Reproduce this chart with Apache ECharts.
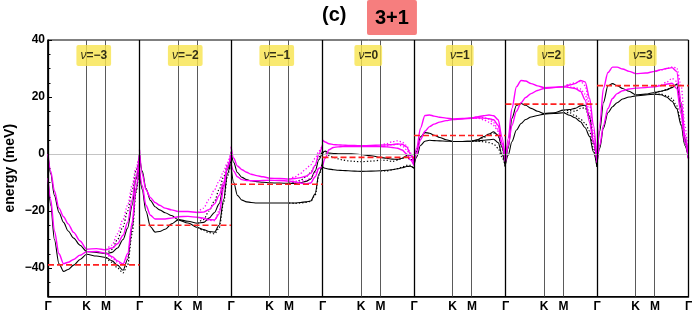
<!DOCTYPE html>
<html><head><meta charset="utf-8">
<script src="https://cdn.jsdelivr.net/npm/echarts@6/dist/echarts.min.js"></script>
<style>html,body{margin:0;padding:0;background:#fff}#c{width:692px;height:315px}</style>
</head><body><div id="c"></div>
<script>
// ---- k-path sample positions (fraction of one Γ-K-M-Γ panel) ----
const kPath = [0, 0.03, 0.07, 0.12, 0.17, 0.22, 0.28, 0.35, 0.4226, 0.53, 0.634, 0.7, 0.76, 0.82, 0.87, 0.92, 0.96, 1];
const pathTickPos = [0, 0.4226, 0.634];
const pathTickNames = ['Γ', 'K', 'M'];
const nuLabels = ['−3', '−2', '−1', '0', '1', '2', '3'];
const fermi = [-38.9, -25, -10.6, -1.2, 6.5, 17.5, 24];
const yTicks = [-40, -20, 0, 20, 40];

// ---- bands, one list per panel (ν = -3 ... 3), values along kPath ----
const magentaUpper = [
  [0, -6, -13, -19, -22, -24.5, -27.5, -30.5, -33.4, -33.2, -33.6, -33, -31.5, -28.5, -24, -16, -8, 0],
  [1.5, -7, -12.5, -15.3, -17, -18, -19, -19.6, -20.2, -20.2, -20.5, -20.4, -19.5, -17.5, -14.5, -10, -5, 0.5],
  [2.6, -1.5, -4.2, -5.5, -6.4, -7.1, -7.6, -8.0, -8.5, -8.6, -8.8, -8.6, -8.3, -7.8, -6.8, -4, 0, 3.2],
  [4.9, 4.2, 3.6, 3.3, 3.2, 3.1, 3.0, 3.0, 2.9, 3.0, 3.1, 3.2, 3.3, 3.5, 3.4, 2.5, 0, -3],
  [-2, 2, 9, 13.5, 13.7, 13.3, 12.9, 12.6, 12.3, 12.5, 12.7, 13.1, 13.4, 13.7, 13.4, 12, 6, -2.7],
  [-2.7, 5.5, 16, 23.6, 25.8, 25.6, 24.7, 23.9, 23.3, 23.4, 23.6, 24.2, 24.7, 25.8, 25.3, 19.5, 10.2, -2.7],
  [-3, 10, 23, 28.6, 30.5, 30.5, 29.8, 29, 28.2, 28.4, 29, 29.6, 30, 30.3, 29, 18, 6, -1.5]
];
const magentaLower = [
  [-8.5, -16, -27, -35, -38.5, -38, -37, -35.5, -34.3, -34.2, -34.8, -36, -37.5, -38.6, -35, -24, -12, -2],
  [-5.5, -11, -18, -21.5, -22.8, -22.8, -22.8, -22.5, -22.0, -21.9, -22.2, -22.5, -23, -23.1, -21, -12, -4.5, -1],
  [-3.3, -6, -8, -9, -9.3, -9.4, -9.4, -9.3, -9.2, -9.3, -9.5, -9.8, -10.2, -10.5, -10.2, -8, -5, -4.4],
  [-4.4, -1.5, 1.5, 2.3, 2.5, 2.6, 2.6, 2.6, 2.6, 2.6, 2.6, 2.5, 2.3, 2.0, 1.4, 0, -2, -4],
  [-3, 0, 5, 8, 9.6, 10.5, 11.2, 11.7, 12.1, 12.3, 12.5, 12.7, 12.6, 12.4, 12, 10, 4, -2.7],
  [-2.7, 3, 10, 15, 18, 19.8, 21.2, 22.3, 23, 23.3, 23.6, 23.3, 23, 22, 19, 11, 4, -2.7],
  [-3, 3, 10, 16, 19.5, 21.2, 22.2, 22.8, 23.1, 23.3, 23.6, 24, 24.5, 24.8, 23, 14, 4, -1.5]
];
const blackUpper = [
  [-0.5, -7, -14.5, -20.5, -24, -27, -29.5, -32, -34.2, -34.5, -35, -34.5, -33, -30, -26, -18, -9, -0.5],
  [0, -6, -12, -16.3, -18.5, -19.6, -20.6, -21.6, -23.0, -23.6, -24.3, -24, -22.5, -20.5, -17.5, -11, -5.5, -0.5],
  [0.8, -3, -6.5, -8.2, -9, -9.4, -9.7, -9.9, -10.1, -10.2, -10.3, -10.3, -10, -9.6, -8.8, -6, -2, 1],
  [0.5, 1.0, 0.3, 0.2, 0.1, 0.1, 0.1, 0, -0.2, -0.6, -1.2, -1.5, -1.8, -1.9, -1.5, -0.5, -0.3, -2],
  [-3, 1, 6, 7.5, 7.3, 6.6, 5.8, 5.0, 4.4, 4.4, 4.5, 5.1, 6.1, 7, 7.8, 6.5, 2.6, -4.5],
  [-3.5, 2, 12.5, 17.1, 17.7, 17.1, 16, 15, 14.2, 14.5, 15.4, 15.6, 16, 16.9, 17.1, 13.1, 4.3, -3.5],
  [-3.5, 8, 18, 24, 24.7, 24, 23, 22, 20.8, 21, 21.6, 22, 22.5, 23.3, 24.5, 16, 5, -1.5]
];
const blackLower = [
  [-9, -18, -30, -38.5, -41.2, -40.5, -39, -37, -35.2, -35.8, -36.3, -37.5, -39, -40.8, -37, -26, -13, -3],
  [-6.6, -12.5, -20, -25.5, -27.4, -27.2, -26.4, -24.5, -23.1, -24.2, -25.8, -26.5, -27.2, -27.4, -25, -16, -7, -2],
  [-4.4, -10, -14.5, -16.2, -16.8, -17, -17.2, -17.2, -17.2, -17.2, -17.2, -17.2, -17, -16.8, -16.5, -14, -7, -3],
  [-4.4, -5, -5.3, -5.5, -5.7, -5.8, -5.9, -6.0, -6.1, -6.0, -5.9, -5.7, -5.5, -5.2, -4.8, -4.4, -4.3, -5],
  [-4, -1, 3, 4.5, 4.8, 4.7, 4.6, 4.5, 4.4, 4.4, 4.5, 4.6, 4.8, 5.0, 5.2, 4, 0, -4.5],
  [-3.5, -0.4, 4.3, 8.4, 10.7, 12.1, 13, 13.5, 14, 14.2, 14.5, 13.6, 12.7, 11.3, 9.2, 6.1, 0.8, -4.5],
  [-3.5, 2, 9, 14.5, 16.6, 18, 19.3, 20, 20.4, 20.7, 21, 20.8, 20, 18.5, 16, 10, 3, -1.5]
];
// dotted partners: values over the last points of kPath (from M to Γ), or the whole path
const magentaUpperDot = [
  [-33.6, -32, -28, -23, -18, -11, -5, 0],
  [-20.5, -19, -16, -12.5, -9.5, -6, -3, 0.5],
  [-8.8, -8, -6.8, -5.2, -3.8, -1.5, 1, 3.2],
  [3.1, 3.6, 4.3, 4.6, 4.2, 3.0, 0.5, -3],
  [12.7, 13, 12.8, 12.2, 11, 8.5, 4, -2.7],
  [23.6, 24.5, 25, 25.5, 24, 17.1, 7.8, -2.7],
  [29, 29.5, 30, 30.5, 30.3, 24, 10, -1.5]
];
const magentaLowerDot = [
  [-34.8, -36.5, -38, -38.8, -36, -25, -13, -2],
  [-22.2, -22.8, -23.3, -23.4, -20, -11, -4, -1],
  [-9.5, -9.5, -9.5, -9.3, -8.5, -6.5, -5, -4.4],
  [2.6, 2.8, 3.2, 3.4, 2.8, 1.5, -1, -4],
  [12.5, 12.5, 12, 11.2, 10, 8, 3, -2.7],
  [23.6, 23.5, 23.3, 22.8, 21, 14, 6, -2.7],
  [23.6, 24.3, 25.2, 26.5, 25.5, 18, 7, -1.5]
];
const blackUpperDot = [
  [-35, -33.5, -30, -25.5, -20, -13, -6, -0.5],
  [-24.3, -23, -20, -16.5, -12.5, -8, -4, -0.5],
  [-10.3, -10, -9.2, -8, -6.5, -4, -1, 1],
  [0.5, 0.5, -0.5, -1.2, -1.7, -2.1, -2.4, -2.6, -2.7, -2.5, -2.2, -2.2, -2.6, -2.2, -1.5, -1, -2, -2],
  [4.5, 4.8, 5.8, 6.8, 7.3, 6.5, 2, -4.5],
  [15.4, 15.2, 15, 16, 16.2, 12.5, 4, -3.5],
  [21.6, 22, 22.6, 23.5, 24.5, 18, 6, -1.5]
];
const blackLowerDot = [
  [-36.3, -38, -40, -41.7, -39, -28, -14, -3],
  [-25.8, -26.8, -27.6, -28, -26, -17, -8, -2],
  [-17.2, -17.3, -17.2, -17, -16.6, -14.5, -7.5, -3],
  [-5.9, -5.9, -5.6, -5.1, -4.6, -4.0, -4, -5],
  [4.5, 4.5, 4.3, 4.0, 3.5, 2, -1, -4.5],
  [14.5, 14.5, 13.5, 12.2, 10.8, 8, 2, -4.5],
  [21, 21, 20.5, 19.5, 17, 11, 4, -1.5]
];

// ---- build ----
const FONT = "'Liberation Sans', Arial, sans-serif";
const nPanels = nuLabels.length;

function bandData(rows) {
  const data = [];
  rows.forEach((vals, p) => {
    const start = kPath.length - vals.length;
    vals.forEach((v, i) => data.push([p + kPath[start + i], v]));
    data.push([p + 1, '-']);
  });
  return data;
}
function bandSeries(rows, color, width, type, z) {
  return {
    type: 'line', data: bandData(rows), symbol: 'none', showSymbol: false,
    smooth: 0.3, smoothMonotone: 'x', connectNulls: false, silent: true,
    lineStyle: { color, width, type }, z, animation: false
  };
}

const xTicks = [];
for (let p = 0; p < nPanels; p++) pathTickPos.forEach(t => xTicks.push(p + t));
xTicks.push(nPanels);
function xName(v) {
  let f = v - Math.floor(v + 1e-6);
  if (f < 0) f = 0;
  let best = 0, bd = 9;
  pathTickPos.forEach((t, i) => { const d = Math.abs(f - t); if (d < bd) { bd = d; best = i; } });
  return pathTickNames[best];
}

const vLines = [{ yAxis: 0, lineStyle: { color: '#c4c4c4', width: 1, type: 'solid' } }];
for (let p = 0; p < nPanels; p++) {
  vLines.push({ xAxis: p + pathTickPos[1], lineStyle: { color: '#5a5a5a', width: 1, type: 'solid' } });
  vLines.push({ xAxis: p + pathTickPos[2], lineStyle: { color: '#5a5a5a', width: 1, type: 'solid' } });
}
for (let p = 0; p <= nPanels; p++) vLines.push({ xAxis: p, lineStyle: { color: '#000', width: 1.3, type: 'solid' } });

const fermiData = [];
fermi.forEach((e, p) => { fermiData.push([p, e], [p + 1, e], [p + 1, '-']); });

const nuLabelY = 34.6;
const series = [
  { type: 'line', data: [[0, 0]], symbol: 'none', lineStyle: { opacity: 0 }, silent: true, z: 1,
    markLine: { silent: true, symbol: ['none', 'none'], label: { show: false }, animation: false, data: vLines } },
  bandSeries(blackUpper, '#000', 1.1, 'solid', 3),
  bandSeries(blackLower, '#000', 1.1, 'solid', 3),
  bandSeries(blackUpperDot, '#000', 1.2, [1.3, 2], 3),
  bandSeries(blackLowerDot, '#000', 1.2, [1.3, 2], 3),
  bandSeries(magentaUpper, '#ff00ff', 1.4, 'solid', 4),
  bandSeries(magentaLower, '#ff00ff', 1.4, 'solid', 4),
  bandSeries(magentaUpperDot, '#ff00ff', 1.3, [1.3, 2], 4),
  bandSeries(magentaLowerDot, '#ff00ff', 1.3, [1.3, 2], 4),
  { type: 'line', data: fermiData, symbol: 'none', connectNulls: false, silent: true, z: 5, animation: false,
    lineStyle: { color: '#ff2020', width: 1.6, type: [6, 3] } },
  { type: 'scatter', data: nuLabels.map((t, p) => [p + 0.5, nuLabelY]), symbolSize: 0,
    itemStyle: { color: 'transparent' }, z: 6, silent: true, animation: false,
    label: { show: true, position: 'inside', formatter: (q) => '{i|ν}{n|=' + nuLabels[q.dataIndex] + '}',
      backgroundColor: '#f8e44c', padding: [5, 4, 4, 4], borderRadius: 2,
      rich: { i: { fontStyle: 'italic', fontSize: 12, fontFamily: FONT, color: '#000' },
              n: { fontWeight: 'bold', fontSize: 12, fontFamily: FONT, color: '#000' } } } }
];

const chart = echarts.init(document.getElementById('c'), null, { renderer: 'canvas' });
chart.setOption({
  animation: false,
  backgroundColor: '#fff',
  title: [
    { text: '(c)', left: 322, top: 5, padding: 0, textStyle: { fontSize: 20, fontWeight: 'bold', color: '#000', fontFamily: FONT } },
    { text: '3+1', left: 367, top: 0, padding: [8, 8, 7, 8], backgroundColor: '#f67e7e', borderRadius: 2,
      textStyle: { fontSize: 20, fontWeight: 'bold', color: '#000', fontFamily: FONT } }
  ],
  grid: { left: 48, right: 3.5, top: 40, bottom: 18.5, show: true, borderColor: '#000', borderWidth: 1,
    containLabel: false, outerBoundsMode: 'none' },
  xAxis: {
    type: 'value', min: 0, max: nPanels,
    axisLine: { show: true, onZero: false, lineStyle: { color: '#000', width: 1.5 } },
    axisTick: { show: false }, splitLine: { show: false },
    axisLabel: { customValues: xTicks, formatter: xName, fontWeight: 'bold', fontSize: 12, color: '#000', fontFamily: FONT, margin: 4 }
  },
  yAxis: [
    { type: 'value', min: -50, max: 40, position: 'left',
      name: 'energy (meV)', nameLocation: 'middle', nameGap: 31, nameRotate: 90, nameMoveOverlap: false,
      nameTextStyle: { fontSize: 14, fontWeight: 'bold', color: '#000', fontFamily: FONT },
      axisLine: { show: true, onZero: false, lineStyle: { color: '#000', width: 1.5 } },
      axisTick: { show: true, inside: true, length: 4, customValues: yTicks, lineStyle: { color: '#000', width: 1 } },
      axisLabel: { customValues: yTicks, formatter: v => (v < 0 ? '−' + (-v) : '' + v), fontWeight: 'bold', fontSize: 12, color: '#000', fontFamily: FONT, margin: 3 },
      splitLine: { show: false } },
    { type: 'value', min: -50, max: 40, interval: 5, position: 'left',
      axisLine: { show: false, onZero: false }, axisLabel: { show: false }, splitLine: { show: false },
      axisTick: { show: true, inside: true, length: 2.5, lineStyle: { color: '#000', width: 1 } } }
  ],
  series
});
</script></body></html>
